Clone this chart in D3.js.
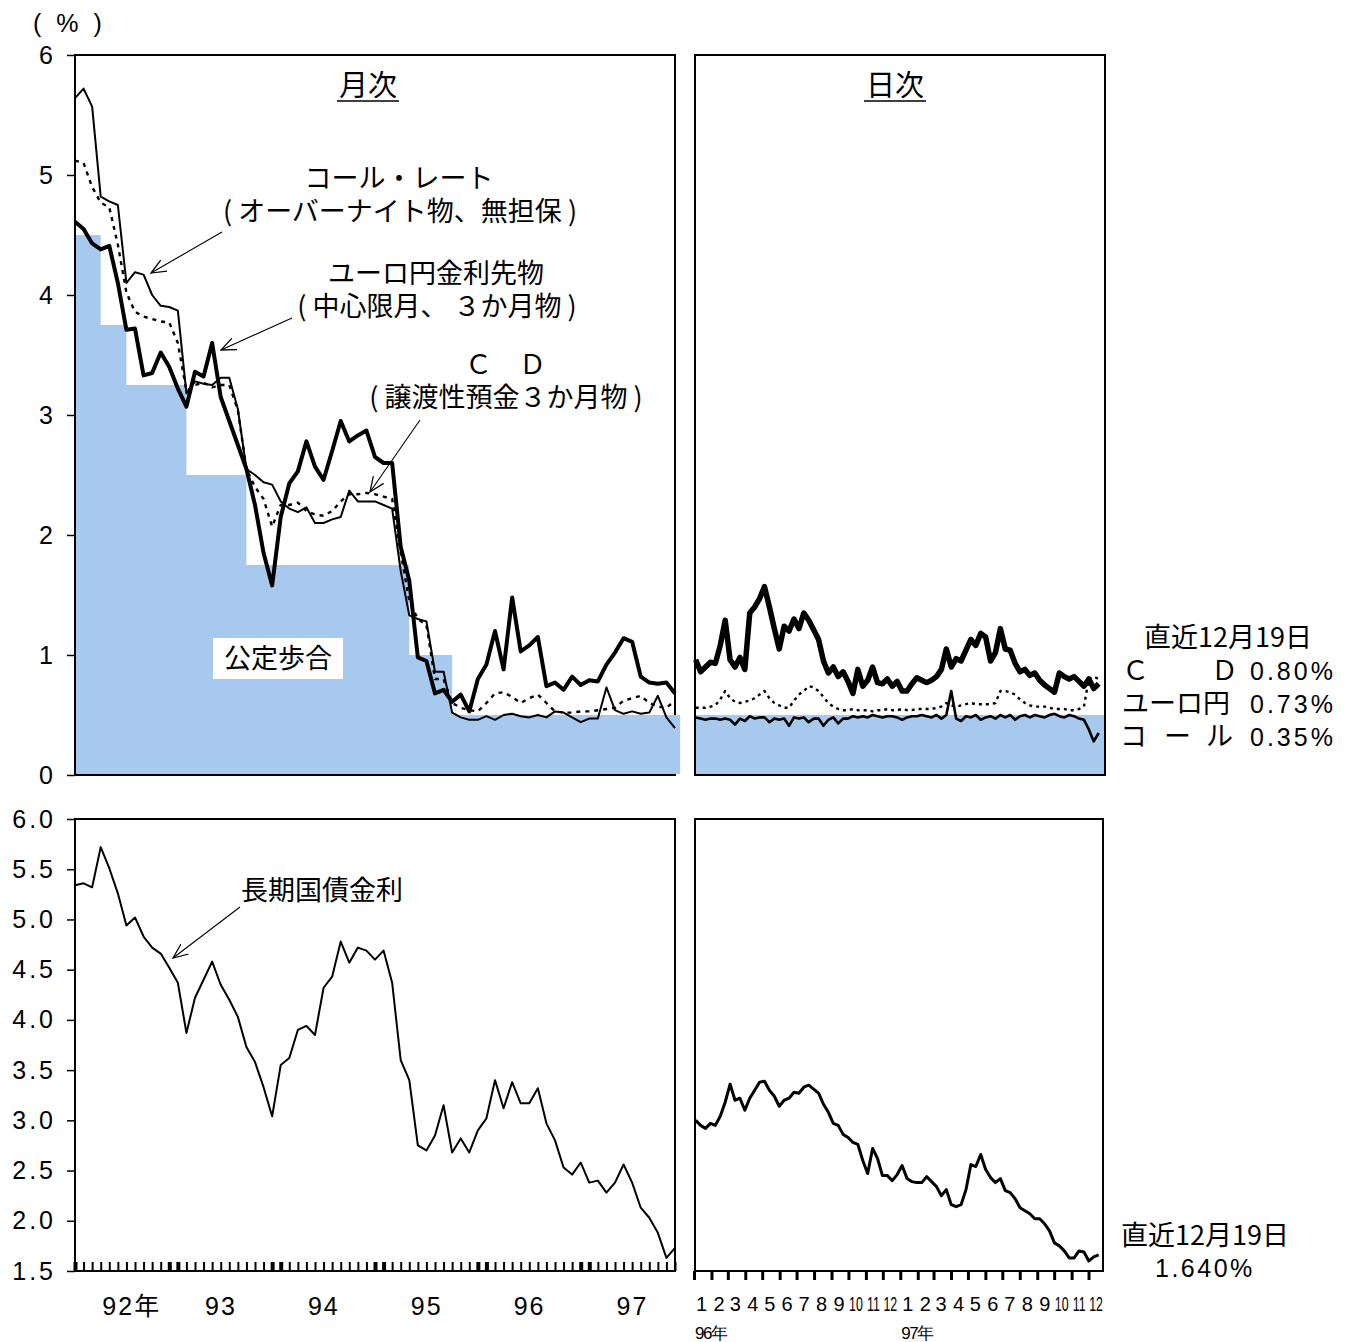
<!DOCTYPE html>
<html>
<head>
<meta charset="utf-8">
<script src="https://cdnjs.cloudflare.com/ajax/libs/d3/7.8.5/d3.min.js"></script>
<style>
  body { margin: 0; background: #fff; }
  text { fill: #000; }
</style>
</head>
<body>
<script>
// ---- monthly data, 1992/1 .. 1997/11 (index 0 = 92年1月) ----
const callMonthly = [
  5.64, 5.72, 5.57, 4.82, 4.78, 4.75, 4.10, 4.19, 4.17, 4.00,
  3.91, 3.90, 3.87, 3.18, 3.28, 3.26, 3.25, 3.31, 3.31, 3.05,
  2.55, 2.50, 2.44, 2.42, 2.28, 2.22, 2.19, 2.23, 2.10, 2.10,
  2.13, 2.15, 2.37, 2.28, 2.28, 2.28, 2.25, 2.22, 1.70, 1.33,
  1.30, 1.28, 0.86, 0.86, 0.52, 0.48, 0.46, 0.46, 0.49, 0.46,
  0.50, 0.51, 0.49, 0.48, 0.50, 0.48, 0.53, 0.52, 0.48, 0.44,
  0.47, 0.47, 0.73, 0.54, 0.51, 0.53, 0.51, 0.52, 0.66, 0.48,
  0.39
];
const cdMonthly = [
  5.12, 5.10, 4.90, 4.77, 4.73, 4.42, 4.02, 3.86, 3.82, 3.80,
  3.78, 3.77, 3.60, 3.20, 3.25, 3.27, 3.23, 3.25, 3.25, 3.04,
  2.55, 2.40, 2.30, 2.07, 2.25, 2.25, 2.27, 2.20, 2.17, 2.16,
  2.20, 2.28, 2.34, 2.34, 2.35, 2.34, 2.32, 2.30, 1.85, 1.45,
  1.30, 1.25, 0.80, 0.80, 0.60, 0.56, 0.54, 0.53, 0.60, 0.68,
  0.69, 0.65, 0.60, 0.64, 0.67, 0.60, 0.53, 0.52, 0.52, 0.53,
  0.53, 0.54, 0.55, 0.56, 0.62, 0.64, 0.66, 0.60, 0.57, 0.56,
  0.62
];
const euroMonthly = [
  4.61, 4.55, 4.43, 4.38, 4.41, 4.10, 3.71, 3.72, 3.33, 3.35,
  3.52, 3.40, 3.22, 3.07, 3.36, 3.32, 3.60, 3.15, 2.95, 2.75,
  2.55, 2.25, 1.85, 1.58, 2.15, 2.43, 2.53, 2.78, 2.57, 2.46,
  2.70, 2.95, 2.78, 2.83, 2.87, 2.65, 2.60, 2.60, 1.90, 1.62,
  0.98, 0.95, 0.68, 0.71, 0.61, 0.67, 0.53, 0.80, 0.92, 1.20,
  0.88, 1.48, 1.03, 1.08, 1.15, 0.74, 0.77, 0.71, 0.82, 0.75,
  0.79, 0.78, 0.92, 1.02, 1.14, 1.11, 0.82, 0.77, 0.76, 0.77,
  0.68
];
const discountMonthly = [
  4.5, 4.5, 4.5, 3.75, 3.75, 3.75, 3.25, 3.25, 3.25, 3.25,
  3.25, 3.25, 3.25, 2.5, 2.5, 2.5, 2.5, 2.5, 2.5, 2.5,
  1.75, 1.75, 1.75, 1.75, 1.75, 1.75, 1.75, 1.75, 1.75, 1.75,
  1.75, 1.75, 1.75, 1.75, 1.75, 1.75, 1.75, 1.75, 1.75, 1.0,
  1.0, 1.0, 1.0, 1.0, 0.5, 0.5, 0.5, 0.5, 0.5, 0.5,
  0.5, 0.5, 0.5, 0.5, 0.5, 0.5, 0.5, 0.5, 0.5, 0.5,
  0.5, 0.5, 0.5, 0.5, 0.5, 0.5, 0.5, 0.5, 0.5, 0.5,
  0.5
];
const bondMonthly = [
  5.34, 5.36, 5.32, 5.72, 5.51, 5.26, 4.94, 5.02, 4.83, 4.72,
  4.66, 4.52, 4.37, 3.87, 4.22, 4.40, 4.58, 4.35, 4.20, 4.03,
  3.73, 3.58, 3.33, 3.04, 3.55, 3.62, 3.90, 3.94, 3.85, 4.32,
  4.43, 4.78, 4.57, 4.72, 4.69, 4.60, 4.69, 4.37, 3.60, 3.40,
  2.75, 2.70, 2.85, 3.15, 2.68, 2.82, 2.68, 2.90, 3.02, 3.40,
  3.12, 3.38, 3.17, 3.17, 3.32, 2.97, 2.80, 2.53, 2.46, 2.58,
  2.38, 2.40, 2.28, 2.38, 2.56, 2.38, 2.13, 2.03, 1.88, 1.63,
  1.73
];

// ---- daily data (sampled), 1996/1/4 .. 1997/12/19 ----
const euroDaily = [
  0.96, 0.86, 0.90, 0.94, 0.93, 1.08, 1.29, 0.96, 0.90, 0.98,
  0.88, 1.35, 1.40, 1.47, 1.57, 1.40, 1.22, 1.05, 1.24, 1.20,
  1.30, 1.22, 1.35, 1.29, 1.21, 1.13, 0.95, 0.85, 0.90, 0.82,
  0.86, 0.78, 0.68, 0.88, 0.74, 0.79, 0.90, 0.77, 0.76, 0.80,
  0.74, 0.78, 0.70, 0.70, 0.76, 0.81, 0.79, 0.77, 0.79, 0.82,
  0.88, 1.05, 0.90, 0.97, 0.95, 1.04, 1.13, 1.08, 1.18, 1.15,
  0.95, 1.02, 1.22, 1.05, 1.04, 0.93, 0.86, 0.88, 0.83, 0.85,
  0.79, 0.75, 0.72, 0.69, 0.85, 0.82, 0.80, 0.82, 0.78, 0.74,
  0.80, 0.72, 0.76
];
const cdDaily = [
  0.56, 0.56, 0.56, 0.57, 0.58, 0.63, 0.70, 0.64, 0.61, 0.60,
  0.61, 0.62, 0.64, 0.67, 0.70, 0.64, 0.60, 0.58, 0.56, 0.56,
  0.62, 0.67, 0.70, 0.74, 0.73, 0.70, 0.65, 0.60, 0.57, 0.55,
  0.54, 0.54, 0.55, 0.54, 0.54, 0.54, 0.53, 0.54, 0.54, 0.55,
  0.54, 0.54, 0.55, 0.54, 0.54, 0.55, 0.55, 0.55, 0.55, 0.56,
  0.57, 0.60, 0.58, 0.57, 0.58, 0.59, 0.60, 0.59, 0.59, 0.59,
  0.59, 0.60, 0.70, 0.70, 0.69, 0.67, 0.63, 0.60, 0.58, 0.57,
  0.57, 0.57, 0.56, 0.55, 0.55, 0.55, 0.54, 0.54, 0.55, 0.57,
  0.80, 0.82, 0.80
];
const callDaily = [
  0.48, 0.47, 0.46, 0.47, 0.47, 0.46, 0.47, 0.46, 0.42, 0.47,
  0.45, 0.49, 0.47, 0.48, 0.48, 0.44, 0.47, 0.46, 0.47, 0.41,
  0.48, 0.47, 0.48, 0.44, 0.47, 0.47, 0.41, 0.46, 0.48, 0.43,
  0.47, 0.47, 0.49, 0.48, 0.49, 0.48, 0.50, 0.49, 0.48, 0.49,
  0.49, 0.48, 0.46, 0.48, 0.49, 0.49, 0.50, 0.49, 0.48, 0.50,
  0.47, 0.50, 0.70, 0.47, 0.45, 0.49, 0.48, 0.50, 0.46, 0.48,
  0.49, 0.47, 0.50, 0.48, 0.50, 0.46, 0.49, 0.50, 0.48, 0.50,
  0.49, 0.48, 0.50, 0.51, 0.49, 0.48, 0.50, 0.49, 0.47, 0.46,
  0.38, 0.28, 0.35
];
const bondDaily = [
  3.00, 2.95, 2.92, 2.97, 2.95, 3.04, 3.18, 3.36, 3.20, 3.22,
  3.10, 3.22, 3.30, 3.38, 3.39, 3.30, 3.24, 3.14, 3.20, 3.22,
  3.28, 3.27, 3.33, 3.35, 3.31, 3.27, 3.16, 3.08, 2.97, 2.95,
  2.86, 2.83, 2.78, 2.76, 2.60, 2.47, 2.72, 2.62, 2.45, 2.45,
  2.40, 2.46, 2.55, 2.42, 2.39, 2.38, 2.38, 2.44, 2.39, 2.34,
  2.25, 2.31, 2.16, 2.14, 2.16, 2.31, 2.56, 2.54, 2.66, 2.51,
  2.43, 2.38, 2.42, 2.30, 2.28, 2.22, 2.13, 2.10, 2.07, 2.02,
  2.02, 1.97, 1.90, 1.78, 1.75, 1.70, 1.63, 1.63, 1.70, 1.69,
  1.60, 1.64, 1.66
];
const dailyBlue = 0.5;

// ---- labels ----
const topTicks = [0, 1, 2, 3, 4, 5, 6];
const bottomTicks = [1.5, 2.0, 2.5, 3.0, 3.5, 4.0, 4.5, 5.0, 5.5, 6.0];
const yearLabels = ["92", "93", "94", "95", "96", "97"];
const dailyMonthLabels = ["1","2","3","4","5","6","7","8","9","10","11","12",
                          "1","2","3","4","5","6","7","8","9","10","11","12"];
const dailyYearLabels = ["96年", "97年"];
const latestCD = "0.80%", latestEuro = "0.73%", latestCall = "0.35%", latestBond = "1.640%";

// ---- layout ----
const width = 1354, height = 1342;
const blue = "#a7c9ee";
const jp = "'Noto Sans CJK JP', sans-serif";
const num = "'Liberation Sans', Arial, sans-serif";
const narrow = "'Liberation Sans Narrow', 'Liberation Sans', Arial, sans-serif";

const svg = d3.select("body").append("svg")
    .attr("width", width)
    .attr("height", height);

const defs = svg.append("defs");
defs.append("marker")
    .attr("id", "arr")
    .attr("viewBox", "0 0 14 12")
    .attr("refX", 13).attr("refY", 6)
    .attr("markerWidth", 16).attr("markerHeight", 14)
    .attr("markerUnits", "userSpaceOnUse")
    .attr("orient", "auto")
  .append("path")
    .attr("d", "M0,0.5 L13,6 L0,11.5")
    .attr("fill", "none")
    .attr("stroke", "#000")
    .attr("stroke-width", 1.1);

// scales
const xM = d3.scaleLinear().domain([0, 70]).range([75, 675]);
const yTop = d3.scaleLinear().domain([0, 6]).range([775, 55]);
const yBot = d3.scaleLinear().domain([1.5, 6]).range([1271, 819]);
const xD = d3.scaleTime()
    .domain([new Date(1996, 0, 1), new Date(1998, 0, 1)])
    .range([694, 1106]);

const d0 = new Date(1996, 0, 4), d1 = new Date(1997, 11, 19);
const dailyDates = d3.range(euroDaily.length)
    .map(i => new Date(+d0 + i * (d1 - d0) / (euroDaily.length - 1)));

// ---- frames ----
const frame = (x0, y0, x1, y1) => svg.append("rect")
    .attr("x", x0).attr("y", y0)
    .attr("width", x1 - x0).attr("height", y1 - y0)
    .attr("fill", "none").attr("stroke", "#000").attr("stroke-width", 2);

frame(75, 55, 675, 775);
frame(695, 55, 1105, 775);
frame(75, 819, 675, 1271);
frame(695, 819, 1103, 1271);

// ---- top-left: monthly ----
const stepData = discountMonthly.map((v, i) => [i, v]);
stepData.push([70.6, discountMonthly[discountMonthly.length - 1]]);

svg.append("path")
    .datum(stepData)
    .attr("fill", blue)
    .attr("d", d3.area()
        .curve(d3.curveStepAfter)
        .x(d => Math.max(xM(d[0]), 76))
        .y0(yTop(0) - 1)
        .y1(d => yTop(d[1])));

const lineM = d3.line().x((d, i) => xM(i)).y(d => yTop(d));

const drawLine = (data, gen, w, dash) => svg.append("path")
    .datum(data)
    .attr("fill", "none")
    .attr("stroke", "#000")
    .attr("stroke-width", w)
    .attr("stroke-linejoin", "round")
    .attr("stroke-dasharray", dash)
    .attr("d", gen);

drawLine(cdMonthly, lineM, 2.4, "4,5");
drawLine(callMonthly, lineM, 2, null);
drawLine(euroMonthly, lineM, 4, null);

// left axis on top of blue
svg.append("line")
    .attr("x1", 75).attr("x2", 75).attr("y1", 54).attr("y2", 776)
    .attr("stroke", "#000").attr("stroke-width", 2);

const axTop = svg.append("g")
    .attr("transform", "translate(75,0)")
    .call(d3.axisLeft(yTop).tickValues(topTicks).tickSize(8).tickPadding(14).tickFormat(d3.format("d")));
axTop.select(".domain").remove();
axTop.selectAll("line").attr("stroke", "#000").attr("stroke-width", 1.5);
axTop.selectAll("text").attr("font-family", num).attr("font-size", 25);

svg.append("text")
    .attr("x", 33).attr("y", 32)
    .attr("font-family", num).attr("font-size", 25)
    .attr("letter-spacing", 4)
    .text("( % )");

// ---- top-right: daily ----
svg.append("rect")
    .attr("x", 696).attr("y", yTop(dailyBlue))
    .attr("width", 408).attr("height", yTop(0) - yTop(dailyBlue) - 1)
    .attr("fill", blue);

const lineD = d3.line().x((d, i) => xD(dailyDates[i])).y(d => yTop(d));
drawLine(cdDaily, lineD, 2.4, "3,4");
drawLine(callDaily, lineD, 2.6, null);
drawLine(euroDaily, lineD, 5.5, null);

// ---- bottom-left: bond monthly ----
const lineB = d3.line().x((d, i) => xM(i)).y(d => yBot(d));
drawLine(bondMonthly, lineB, 2, null);

const axBot = svg.append("g")
    .attr("transform", "translate(75,0)")
    .call(d3.axisLeft(yBot).tickValues(bottomTicks).tickSize(8).tickPadding(11).tickFormat(d3.format(".1f")));
axBot.select(".domain").remove();
axBot.selectAll("line").attr("stroke", "#000").attr("stroke-width", 1.5);
axBot.selectAll("text").attr("font-family", num).attr("font-size", 25).attr("letter-spacing", 3);

const axMonths = svg.append("g")
    .attr("transform", "translate(0,1271)")
    .call(d3.axisTop(xM).tickValues(d3.range(bondMonthly.length)).tickSize(9).tickFormat(""));
axMonths.select(".domain").remove();
axMonths.selectAll("line")
    .attr("stroke", "#000")
    .attr("stroke-width", d => (d % 12 === 0 || d % 12 === 11) ? 4 : 2);

svg.append("g").selectAll("text")
    .data(yearLabels)
    .join("text")
    .attr("x", (d, k) => xM(12 * k + 5.5) - 4)
    .attr("y", 1315)
    .attr("text-anchor", "middle")
    .attr("font-family", num).attr("font-size", 25).attr("letter-spacing", 2)
    .text(d => d);
svg.append("text")
    .attr("x", xM(5.5) + 12).attr("y", 1315)
    .attr("font-family", jp).attr("font-size", 25)
    .text("年");

// ---- bottom-right: bond daily ----
drawLine(bondDaily, d3.line().x((d, i) => xD(dailyDates[i])).y(d => yBot(d)), 3, null);

const axDaily = svg.append("g")
    .attr("transform", "translate(0,1271)")
    .call(d3.axisBottom(xD).ticks(d3.timeMonth.every(1)).tickSize(9).tickFormat(""));
axDaily.select(".domain").remove();
axDaily.selectAll(".tick").filter(d => d >= new Date(1998, 0, 1)).remove();
axDaily.selectAll("line").attr("stroke", "#000").attr("stroke-width", 3);

// month labels: two-digit ones are squeezed horizontally, as in the original
const monthStarts = d3.timeMonth.range(new Date(1996, 0, 1), new Date(1998, 0, 1));
svg.append("g").selectAll("text")
    .data(dailyMonthLabels)
    .join("text")
    .attr("transform", (d, i) => `translate(${xD(monthStarts[i]) + 7.5},1311)` +
        (d.length > 1 ? " scale(0.62,1)" : ""))
    .attr("text-anchor", "middle")
    .attr("font-family", narrow).attr("font-size", 20)
    .text(d => d);

svg.append("g").selectAll("text")
    .data(dailyYearLabels)
    .join("text")
    .attr("x", (d, i) => xD(new Date(1996 + i, 0, 1)) + 1)
    .attr("y", 1339)
    .attr("font-family", narrow).attr("font-size", 17)
    .attr("letter-spacing", -1.5)
    .text(d => d);

// ---- titles and annotations ----
const label = (x, y, s, size = 27, anchor = "middle", font = jp) => svg.append("text")
    .attr("x", x).attr("y", y)
    .attr("text-anchor", anchor)
    .attr("font-family", font).attr("font-size", size)
    .text(s);

const title = (cx, s) => {
    label(cx, 96, s, 29);
    svg.append("line")
        .attr("x1", cx - 31).attr("x2", cx + 31)
        .attr("y1", 101).attr("y2", 101)
        .attr("stroke", "#000").attr("stroke-width", 1.6);
};
title(368, "月次");
title(895, "日次");

const arrow = (x1, y1, x2, y2) => svg.append("line")
    .attr("x1", x1).attr("y1", y1).attr("x2", x2).attr("y2", y2)
    .attr("stroke", "#000").attr("stroke-width", 1.1)
    .attr("marker-end", "url(#arr)");

label(399, 188, "コール・レート");
label(400, 221, "( オーバーナイト物、無担保 )");
arrow(222, 232, 151, 273);

label(436, 283, "ユーロ円金利先物");
label(437, 316, "( 中心限月、 ３か月物 )");
arrow(292, 318, 221, 350);

label(465, 374, "Ｃ　Ｄ", 27, "start");
label(506, 407, "( 譲渡性預金３か月物 )");
arrow(420, 420, 370, 492);

svg.append("rect")
    .attr("x", 213).attr("y", 638).attr("width", 130).attr("height", 41)
    .attr("fill", "#fff");
label(278, 668, "公定歩合");

label(322, 900, "長期国債金利");
arrow(240, 907, 173, 958);

// latest values
label(1228, 647, "直近12月19日");
label(1122, 680, "Ｃ", 27, "start");
label(1211, 680, "Ｄ", 27, "start");
label(1122, 713, "ユーロ円", 27, "start");
label(1120, 746, "コ", 27, "start");
label(1164, 746, "ー", 27, "start");
label(1206, 746, "ル", 27, "start");
[latestCD, latestEuro, latestCall].forEach((s, i) => {
    svg.append("text")
        .attr("x", 1250).attr("y", 680 + 33 * i)
        .attr("font-family", num).attr("font-size", 25)
        .attr("letter-spacing", 3)
        .text(s);
});

label(1205, 1245, "直近12月19日");
svg.append("text")
    .attr("x", 1155).attr("y", 1277)
    .attr("font-family", num).attr("font-size", 25)
    .attr("letter-spacing", 2.5)
    .text(latestBond);
</script>
</body>
</html>
